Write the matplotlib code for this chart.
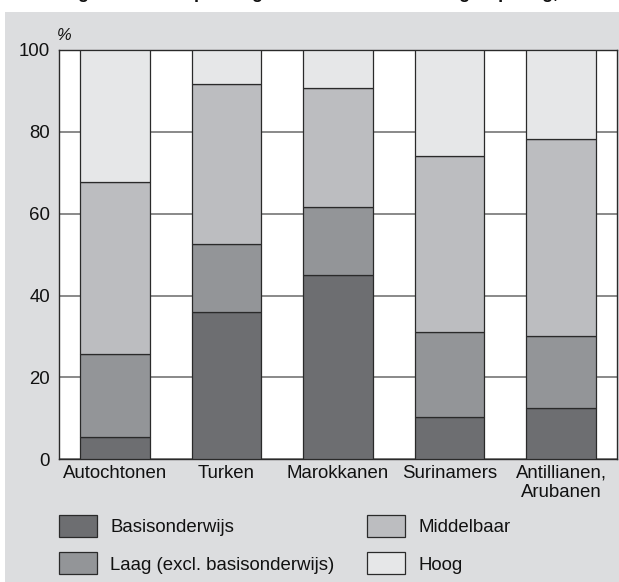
import matplotlib.pyplot as plt
from matplotlib.patches import Rectangle, Patch
import numpy as np

plt.rcParams['font.family'] = ['Liberation Sans', 'DejaVu Sans']

groups = ['Autochtonen', 'Turken', 'Marokkanen', 'Surinamers', 'Antillianen,\nArubanen']
levels = ['Basisonderwijs', 'Laag (excl. basisonderwijs)', 'Middelbaar', 'Hoog']
basis = [5.5, 36.1, 45.0, 10.3, 12.6]
laag = [20.3, 16.5, 16.7, 20.8, 17.5]
middelbaar = [41.9, 39.1, 29.0, 42.9, 48.1]
hoog = [32.3, 8.3, 9.3, 26.0, 21.8]
colors = ['#6d6e71', '#939598', '#bcbdc0', '#e6e7e8']
yticks = [0, 20, 40, 60, 80, 100]
fs = 13.4

fig = plt.figure(figsize=(6.19, 5.82), dpi=100, facecolor='white')
# grey panel behind everything
fig.patches.append(Rectangle((5/619, 0), 1 - 5/619, 1 - 12/582, transform=fig.transFigure,
                             facecolor='#dcdddf', edgecolor='none', zorder=-5))
# clipped title line from the page above
fig.text(0.975, 1.0 + 2/582, 'Hoogst behaald opleidingsniveau naar herkomstgroepering, 2006',
         ha='right', va='baseline', fontsize=13, fontweight='bold', color='#111111')

ax = fig.add_axes([59/619, 1 - 459.3/582, 558/619, 409.3/582])
ax.set_zorder(2)
ax.set_facecolor('white')

x = np.arange(len(groups))
bottom = np.zeros(len(groups))
handles = []
for vals, col, lab in zip([basis, laag, middelbaar, hoog], colors, levels):
    ax.bar(x, vals, width=0.625, bottom=bottom, color=col, edgecolor='#2a2a2a',
           linewidth=0.9, zorder=3)
    bottom += np.array(vals)
    handles.append(Patch(facecolor=col, edgecolor='#2a2a2a', linewidth=0.9, label=lab))

ax.set_xlim(-0.5, 4.5)
ax.set_ylim(0, 100)
ax.set_yticks(yticks)
ax.yaxis.grid(True, color='#808080', linewidth=1.3, zorder=1)
ax.set_axisbelow(True)
ax.tick_params(axis='both', length=0, labelsize=fs, colors='#111111')
ax.tick_params(axis='y', pad=6.5)
ax.tick_params(axis='x', pad=4)
ax.set_xticks(x)
ax.set_xticklabels(groups, linespacing=1.15)
for s in ax.spines.values():
    s.set_color('#2a2a2a')
    s.set_linewidth(1.0)
ax.text(-0.004, 1.024, '%', transform=ax.transAxes, fontsize=fs - 1.5, color='#111111',
        ha='left', va='baseline', style='italic')

leg = fig.legend(handles=handles, ncol=2,
                 loc='upper left', bbox_to_anchor=(59/619, 1 - 515/582), frameon=False,
                 fontsize=fs, handlelength=2.05, handleheight=1.45, handletextpad=0.7,
                 columnspacing=1.75, labelspacing=0.82, borderpad=0, borderaxespad=0)
for t in leg.get_texts():
    t.set_color('#111111')

fig.savefig('out.png', dpi=100, facecolor='white')
